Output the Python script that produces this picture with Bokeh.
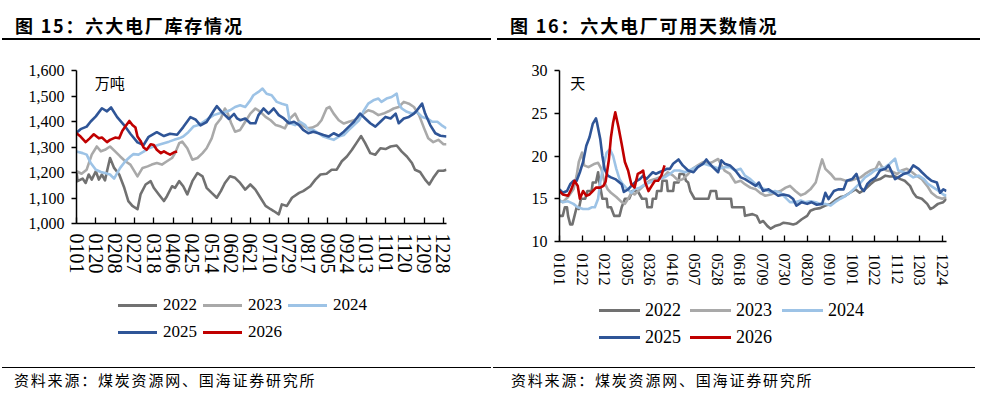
from datetime import date
from bokeh.plotting import figure
from bokeh.models import (Range1d, FixedTicker, NumeralTickFormatter, Label, Div)
from bokeh.layouts import row, column
from bokeh.embed import file_html
from bokeh.resources import INLINE

# ---------------- data: 六大电厂库存 (万吨), x = day of year ----------------
inv_2022 = [(0,1205),(1,1166),(6,1176),(9,1159),(12,1192),(15,1172),(19,1205),(22,1172),(25,1192),(28,1169),(30,1205),(33,1257),(37,1218),(42,1192),(47,1140),(51,1088),(55,1069),(60,1056),(63,1114),(68,1153),(73,1166),(76,1140),(81,1114),(86,1088),(89,1107),(94,1146),(97,1140),(101,1166),(105,1146),(109,1114),(114,1166),(119,1198),(124,1185),(128,1140),(133,1120),(138,1101),(142,1127),(146,1159),(151,1185),(156,1179),(161,1159),(166,1133),(171,1153),(176,1133),(181,1101),(186,1069),(191,1056),(194,1049),(199,1036),(202,1075),(207,1069),(212,1101),(219,1120),(223,1127),(230,1146),(235,1172),(240,1192),(246,1195),(251,1211),(256,1211),(261,1244),(266,1263),(271,1289),(276,1319),(280,1343),(284,1315),(289,1276),(294,1270),(299,1295),(304,1292),(309,1302),(315,1306),(320,1282),(325,1263),(330,1237),(333,1211),(338,1202),(343,1172),(347,1153),(351,1179),(356,1207),(361,1207),(364,1211)]
inv_2023 = [(0,1205),(5,1195),(10,1211),(15,1270),(20,1302),(24,1283),(28,1289),(33,1302),(38,1283),(43,1263),(48,1244),(53,1231),(56,1211),(60,1185),(65,1218),(70,1224),(74,1231),(79,1237),(84,1231),(89,1244),(94,1257),(97,1276),(101,1315),(104,1321),(109,1295),(114,1250),(119,1257),(124,1276),(128,1295),(133,1334),(137,1386),(142,1412),(146,1451),(149,1430),(152,1395),(156,1360),(161,1367),(166,1399),(171,1431),(176,1451),(181,1438),(186,1418),(191,1405),(196,1386),(201,1380),(205,1373),(210,1412),(215,1431),(219,1399),(222,1386),(227,1373),(232,1376),(237,1386),(241,1405),(246,1451),(249,1457),(253,1431),(258,1405),(263,1392),(268,1399),(273,1405),(278,1418),(282,1431),(287,1444),(292,1438),(297,1425),(302,1431),(307,1440),(312,1451),(317,1457),(322,1477),(327,1470),(332,1457),(337,1425),(342,1373),(346,1334),(351,1319),(356,1328),(361,1311),(364,1311)]
inv_2024 = [(0,1282),(6,1276),(10,1270),(14,1237),(19,1211),(24,1202),(28,1198),(33,1192),(37,1176),(40,1198),(43,1218),(48,1244),(53,1263),(56,1272),(61,1270),(66,1282),(71,1295),(76,1302),(81,1309),(86,1315),(91,1321),(96,1328),(101,1334),(105,1341),(110,1358),(115,1380),(120,1386),(125,1399),(130,1412),(135,1425),(140,1431),(145,1435),(151,1444),(156,1457),(161,1464),(166,1457),(171,1483),(174,1503),(179,1516),(183,1529),(187,1509),(192,1503),(197,1477),(202,1470),(207,1464),(210,1393),(215,1386),(220,1399),(225,1386),(228,1367),(233,1367),(238,1354),(243,1341),(248,1334),(253,1328),(258,1341),(263,1347),(268,1367),(273,1386),(278,1405),(282,1438),(287,1470),(292,1483),(297,1490),(300,1477),(305,1490),(310,1496),(315,1509),(317,1470),(320,1451),(325,1438),(330,1431),(335,1438),(340,1418),(345,1412),(350,1399),(355,1399),(359,1386),(364,1373)]
inv_2025 = [(0,1356),(4,1370),(10,1380),(14,1400),(19,1420),(25,1452),(30,1440),(34,1455),(40,1417),(47,1385),(53,1352),(60,1318),(66,1308),(71,1340),(79,1358),(86,1343),(92,1352),(99,1348),(105,1378),(112,1417),(117,1408),(122,1385),(128,1398),(135,1442),(138,1460),(143,1437),(150,1410),(155,1430),(158,1412),(161,1405),(166,1412),(171,1393),(176,1393),(179,1425),(184,1451),(189,1431),(194,1451),(199,1425),(204,1412),(209,1393),(214,1399),(219,1386),(223,1367),(228,1354),(233,1360),(238,1354),(243,1347),(248,1341),(253,1354),(258,1344),(263,1360),(268,1380),(273,1399),(279,1431),(284,1412),(289,1393),(294,1380),(299,1399),(304,1418),(309,1412),(314,1431),(317,1393),(322,1412),(327,1418),(332,1431),(335,1444),(340,1470),(343,1431),(348,1386),(353,1354),(358,1344),(364,1341)]
inv_2026 = [(0,1354),(4,1341),(9,1319),(13,1334),(17,1350),(22,1334),(25,1337),(30,1319),(33,1328),(38,1337),(42,1334),(45,1363),(48,1380),(52,1402),(55,1386),(58,1376),(60,1341),(63,1324),(66,1298),(69,1289),(73,1311),(76,1308),(79,1289),(83,1276),(86,1283),(89,1276),(92,1270),(96,1279),(99,1282)]

# ---------------- data: 六大电厂可用天数 (天), x = day of year ----------------
days_2022 = [(0,13.0),(3,13.0),(5,14.0),(7,14.0),(8,13.0),(10,12.0),(12,12.0),(14,13.0),(16,14.0),(18,13.8),(20,15.0),(24,15.0),(26,15.9),(30,15.9),(31,16.9),(34,16.9),(36,18.1),(37,17.1),(40,15.0),(44,15.0),(45,14.0),(48,14.0),(51,13.0),(56,13.0),(58,14.0),(61,15.0),(65,15.0),(68,15.9),(73,15.9),(77,15.0),(81,15.0),(82,14.0),(86,14.0),(87,15.0),(90,15.0),(91,15.9),(95,15.9),(96,17.1),(100,17.1),(101,15.9),(106,15.9),(107,16.9),(111,16.9),(112,17.9),(116,17.9),(118,17.1),(120,16.9),(122,15.9),(126,15.0),(139,15.0),(141,15.9),(146,15.9),(147,15.0),(160,15.0),(161,14.0),(172,14.0),(173,13.0),(180,13.2),(184,13.0),(187,12.2),(190,12.4),(194,11.8),(197,11.5),(201,11.8),(206,12.0),(209,12.2),(214,12.1),(218,12.0),(221,12.1),(226,12.6),(231,13.0),(234,13.6),(238,13.8),(243,13.9),(248,14.2),(253,14.4),(257,14.8),(262,15.2),(266,15.3),(271,15.7),(276,16.1),(280,15.7),(285,16.1),(290,16.7),(294,17.1),(299,17.3),(304,17.7),(308,17.6),(313,17.6),(318,17.3),(322,17.1),(327,16.5),(330,15.7),(333,15.2),(338,15.0),(343,14.4),(346,13.8),(349,14.0),(353,14.4),(358,14.6),(361,15.0)]
days_2023 = [(0,14.8),(3,14.6),(8,15.2),(13,16.1),(16,17.7),(18,19.3),(21,20.4),(23,18.9),(27,18.7),(30,18.9),(33,19.1),(36,19.2),(39,18.5),(42,16.9),(45,16.1),(48,15.7),(53,15.2),(58,14.6),(61,14.4),(64,15.0),(67,15.7),(70,15.5),(75,16.1),(80,16.7),(84,17.1),(89,17.3),(93,17.5),(98,17.7),(101,18.1),(106,17.7),(111,17.1),(115,17.3),(120,17.9),(124,18.5),(129,18.9),(134,19.3),(138,19.1),(143,19.3),(148,19.65),(151,18.9),(154,18.3),(159,17.9),(164,16.9),(169,17.1),(173,16.7),(178,16.3),(183,16.1),(187,15.7),(192,15.35),(197,15.5),(201,15.7),(206,15.9),(211,16.3),(215,16.5),(220,15.9),(225,15.4),(229,15.6),(234,16.1),(239,16.9),(242,18.3),(245,19.6),(248,18.5),(253,17.9),(257,17.3),(262,17.3),(267,17.1),(271,17.1),(276,17.3),(281,17.5),(285,17.9),(290,18.3),(295,18.5),(298,19.3),(301,18.7),(305,18.3),(310,18.2),(315,17.9),(319,18.3),(324,18.5),(329,18.1),(333,17.7),(338,17.3),(343,16.5),(347,15.7),(352,15.2),(357,15.0),(361,15.2)]
days_2024 = [(0,14.8),(3,14.6),(8,14.7),(13,14.4),(17,14.0),(22,13.8),(27,13.8),(30,14.0),(33,14.0),(36,15.0),(38,16.9),(41,18.9),(44,20.4),(47,20.8),(50,20.0),(53,18.5),(56,17.3),(59,16.7),(62,16.3),(67,15.7),(70,16.1),(75,16.3),(80,16.7),(84,16.9),(89,17.1),(93,17.3),(98,17.5),(103,17.9),(107,18.3),(112,18.3),(117,18.1),(121,18.3),(126,18.6),(131,18.9),(135,19.1),(140,18.9),(145,18.7),(149,18.5),(154,18.7),(159,18.7),(164,18.3),(169,18.5),(173,17.7),(178,17.3),(183,16.7),(187,16.3),(192,16.1),(197,15.7),(201,15.9),(206,15.7),(211,15.1),(215,14.6),(220,14.6),(225,14.8),(229,14.6),(234,14.7),(239,14.6),(243,14.4),(248,14.4),(253,14.2),(257,14.6),(262,15.0),(267,15.35),(271,15.7),(276,16.3),(281,16.9),(285,17.5),(290,17.9),(294,18.3),(299,18.5),(304,18.7),(308,19.1),(313,19.7),(316,18.3),(321,18.1),(325,17.9),(330,17.5),(335,17.7),(340,17.3),(344,16.7),(349,16.3),(354,15.9),(358,15.5),(361,15.35)]
days_2025 = [(0,16.1),(3,15.7),(7,15.9),(10,16.7),(13,17.1),(16,17.1),(19,18.1),(22,19.3),(25,21.2),(28,22.2),(31,23.75),(34,24.4),(35,23.9),(38,22.0),(40,20.0),(42,18.5),(45,17.7),(48,17.5),(52,17.3),(54,17.1),(58,16.7),(60,15.8),(64,16.1),(67,16.5),(72,17.1),(75,17.3),(78,17.7),(81,17.3),(84,17.7),(87,18.1),(90,17.9),(93,18.1),(97,18.3),(100,18.5),(103,18.5),(106,19.1),(111,19.6),(115,18.9),(120,18.3),(125,18.1),(129,18.7),(134,19.1),(137,19.6),(140,19.1),(143,18.7),(148,18.1),(151,19.5),(154,19.1),(159,18.9),(164,18.3),(169,17.5),(173,17.3),(178,16.9),(183,16.5),(186,16.9),(190,15.9),(195,16.1),(200,15.7),(204,15.35),(209,15.5),(214,15.35),(218,14.96),(221,14.2),(226,14.6),(231,14.4),(235,14.6),(240,14.3),(245,14.4),(248,15.7),(251,14.96),(256,15.9),(260,16.1),(265,16.1),(268,17.1),(273,17.3),(277,17.9),(281,16.3),(284,15.9),(287,16.7),(290,17.1),(295,17.5),(299,18.3),(304,18.5),(307,18.9),(310,18.1),(313,17.3),(316,17.5),(321,17.9),(326,18.1),(330,18.9),(335,18.5),(338,18.1),(343,17.5),(347,17.1),(352,16.9),(355,15.7),(358,16.1),(361,15.9)]
days_2026 = [(0,15.9),(3,15.5),(8,15.35),(11,16.1),(14,17.1),(17,16.5),(19,15.0),(22,15.9),(25,15.35),(28,15.5),(31,15.9),(34,16.3),(38,16.3),(41,16.5),(43,17.0),(46,19.5),(48,22.2),(50,23.9),(52,25.1),(55,23.4),(58,21.4),(61,19.3),(64,18.3),(67,16.7),(70,16.3),(73,17.9),(76,18.1),(78,18.3),(80,16.9),(83,15.9),(86,16.5),(89,17.1),(92,17.1),(95,17.7),(98,18.9)]

years = ["2022", "2023", "2024", "2025", "2026"]
colors = ["#717171", "#a9a9a9", "#9dc3e6", "#2f5597", "#c00000"]

inv_tick_labels = ["0101","0120","0208","0227","0318","0406","0425","0514","0602","0621",
                   "0710","0729","0817","0905","0924","1013","1101","1120","1209","1228"]
days_tick_labels = ["0101","0122","0212","0305","0326","0416","0507","0528","0618","0709",
                    "0730","0820","0910","1001","1022","1112","1203","1224"]
inv_yticks = [1000, 1100, 1200, 1300, 1400, 1500, 1600]
days_yticks = [10, 15, 20, 25, 30]

title_left = "图 15：六大电厂库存情况"
title_right = "图 16：六大电厂可用天数情况"
source_text = "资料来源：煤炭资源网、国海证券研究所"

CJK = "Noto Sans CJK SC"
SERIF = "Liberation Serif"
W = 491
PAGE_H = 395
HEAD_H, FOOT_H = 41, 35
TOP_B, BOT_B = 29, 52          # same borders for both charts (Bokeh aligns them in a row)


def doy(s):
    return date(2023, int(s[:2]), int(s[2:])).timetuple().tm_yday - 1


def head_div(text, text_x, rule_x0, rule_x1):
    html = (
        f'<div style="position:relative;width:{W}px;height:{HEAD_H}px;">'
        f'<div style="position:absolute;left:{text_x}px;top:15px;white-space:nowrap;'
        f"font-family:'{CJK}';font-size:18px;font-weight:bold;line-height:20px;"
        f'letter-spacing:1.8px;color:#000;">'
        f'{text}</div>'
        f'<div style="position:absolute;left:{rule_x0}px;width:{rule_x1 - rule_x0}px;'
        f'top:38px;height:1.5px;background:#000;"></div></div>'
    )
    return Div(text=html, width=W, height=HEAD_H, margin=0)


def foot_div(text_x, rule_x0, rule_x1):
    html = (
        f'<div style="position:relative;width:{W}px;height:{FOOT_H}px;">'
        f'<div style="position:absolute;left:{rule_x0}px;width:{rule_x1 - rule_x0}px;'
        f'top:6.5px;height:1.5px;background:#000;"></div>'
        f'<div style="position:absolute;left:{text_x}px;top:11px;white-space:nowrap;'
        f"font-family:'{CJK}';font-size:15px;line-height:18px;letter-spacing:1.8px;"
        f'color:#000;">{source_text}</div></div>'
    )
    return Div(text=html, width=W, height=FOOT_H, margin=0)


def legend_div(height, row_c, col_x, text_dx, glyph_w, font):
    parts = [f'<div style="position:relative;width:{W}px;height:{height}px;">']
    for i, (name, col) in enumerate(zip(years, colors)):
        r, c = divmod(i, 3)
        x, y = col_x[c], row_c[r]
        parts.append(
            f'<div style="position:absolute;left:{x}px;top:{y - 1.5}px;width:{glyph_w}px;'
            f'height:3px;background:{col};"></div>'
            f'<div style="position:absolute;left:{x + text_dx}px;top:{y - 10}px;'
            f"line-height:20px;font-family:'{SERIF}';font-size:{font};color:#000;"
            f'white-space:nowrap;">{name}</div>'
        )
    parts.append('</div>')
    return Div(text="".join(parts), width=W, height=height, margin=0)


def chart(fx0, fx1, frame_h, x_end, y_lo, y_hi, yticks, yfmt, series,
          tick_labels, xlab_size, xlab_standoff, unit, unit_x, unit_y):
    h = TOP_B + frame_h + BOT_B
    p = figure(width=W, height=h, output_backend="svg", toolbar_location=None,
               x_range=Range1d(0, x_end), y_range=Range1d(y_lo, y_hi),
               min_border_left=fx0, min_border_right=W - fx1,
               min_border_top=TOP_B, min_border_bottom=BOT_B)
    p.grid.visible = False
    p.outline_line_color = None
    p.background_fill_color = "white"
    p.border_fill_color = "white"

    for name, col, data in zip(years, colors, series):
        xs = [d[0] for d in data]
        ys = [d[1] for d in data]
        p.line(xs, ys, line_color=col, line_width=2.6, line_join="round")

    tick_days = [doy(s) for s in tick_labels]
    xa = p.xaxis[0]
    xa.ticker = FixedTicker(ticks=tick_days)
    xa.major_label_overrides = {d: s for d, s in zip(tick_days, tick_labels)}
    xa.major_label_orientation = "vertical"
    xa.major_tick_in = 6
    xa.major_tick_out = 0
    xa.minor_tick_line_color = None
    xa.axis_line_color = "black"
    xa.axis_line_width = 1.5
    xa.major_tick_line_color = "black"
    xa.major_tick_line_width = 1.3
    xa.major_label_text_font = SERIF
    xa.major_label_text_font_size = xlab_size
    xa.major_label_text_color = "black"
    xa.major_label_standoff = xlab_standoff

    ya = p.yaxis[0]
    ya.ticker = FixedTicker(ticks=yticks)
    if yfmt:
        ya.formatter = NumeralTickFormatter(format=yfmt)
    ya.major_tick_in = 0
    ya.major_tick_out = 5
    ya.minor_tick_line_color = None
    ya.axis_line_color = "black"
    ya.axis_line_width = 1.5
    ya.major_tick_line_color = "black"
    ya.major_tick_line_width = 1.3
    ya.major_label_text_font = SERIF
    ya.major_label_text_font_size = "16px"
    ya.major_label_text_color = "black"
    ya.major_label_standoff = 7

    p.add_layout(Label(x=unit_x, y=unit_y, text=unit, text_font=CJK,
                       text_font_size="15px", text_baseline="middle",
                       text_align="left", text_color="black"))
    return p


left_chart = chart(76, 446, 154, 364, 1000, 1600, inv_yticks, "0,0",
                   [inv_2022, inv_2023, inv_2024, inv_2025, inv_2026],
                   inv_tick_labels, "20px", 10, "万吨", 18, 1553)
right_chart = chart(68, 455, 171, 361, 10, 30, days_yticks, None,
                    [days_2022, days_2023, days_2024, days_2025, days_2026],
                    days_tick_labels, "16px", 12, "天", 10, 28.6)

# legend rows: left at page y 305/332, right at 310/337
left_leg_top = HEAD_H + left_chart.height
right_leg_top = HEAD_H + right_chart.height
left_leg = legend_div(PAGE_H - FOOT_H - left_leg_top,
                      [305 - left_leg_top, 332 - left_leg_top],
                      [118, 203, 288], 45, 39, "17px")
right_leg = legend_div(PAGE_H - FOOT_H - right_leg_top,
                       [310 - right_leg_top, 337 - right_leg_top],
                       [108, 199, 291], 46, 41, "18px")

left_col = column(head_div(title_left, 15, 2, 491), left_chart, left_leg,
                  foot_div(14, 2, 491), spacing=0)
right_col = column(head_div(title_right, 19, 6, 489), right_chart, right_leg,
                   foot_div(20, 2, 484), spacing=0)

layout = row(left_col, right_col, spacing=0)
open("out.html", "w").write(file_html(layout, INLINE))
